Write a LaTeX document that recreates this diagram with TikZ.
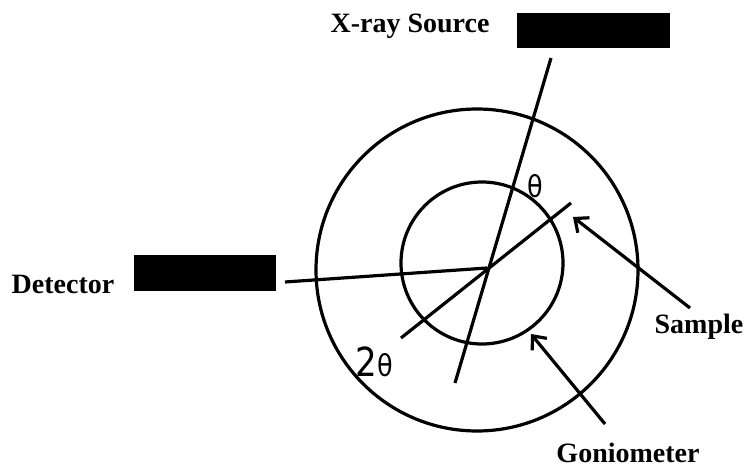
\documentclass[tikz,border=0pt]{standalone}
\usepackage{fontspec}
\setmainfont{Liberation Serif}
\usetikzlibrary{arrows.meta}
\newfontfamily\handfont{DejaVu Sans}
\tikzset{
 ln/.style={line width=3.2pt,black},
 bar/.style={fill=black,draw=none,inner sep=0pt},
 lab/.style={font=\bfseries\fontsize{28}{30}\selectfont,inner sep=0pt},
 arr/.style={ln,-{Straight Barb[length=11pt,width=19pt]}},
 hand/.style={inner sep=0pt,xscale=.85}
}
\begin{document}
\begin{tikzpicture}[x=1pt,y=-1pt]
\useasboundingbox (0,0) rectangle (745,468);
\fill[white] (0,0) rectangle (745,468);
\node[bar,minimum width=153pt,minimum height=35pt] (src) at (593,31) {};
\node[bar,minimum width=142pt,minimum height=36pt] (det) at (205,273) {};
\node[lab] (srcl) at (410,26) {X-ray Source};
\node[lab] (detl) at (63,284) {Detector};
\node[lab] (saml) at (699,327) {Sample};
\node[lab] (gonl) at (628,453) {Goniometer};
\node[ln,draw,circle,minimum size=322pt,inner sep=0pt] (outer) at (477,270) {};
\node[ln,draw,circle,minimum size=162pt,inner sep=0pt] (inner) at (482,263) {};
\coordinate (c) at (487,268);
\coordinate (a1) at (551,58);
\coordinate (a2) at (455,383);
\coordinate (b1) at (571,203);
\coordinate (b2) at (401,338);
\coordinate (d1) at (285,282);
\draw[ln] (a1) -- (a2);
\draw[ln] (b1) -- (b2);
\draw[ln] (c) -- (d1);
\coordinate (s1) at (690,308);
\coordinate (s2) at (573,217);
\coordinate (g1) at (605,424);
\coordinate (g2) at (531,334);
\draw[arr] (s1) -- (s2);
\draw[arr] (g1) -- (g2);
\node[hand,font=\handfont\fontsize{30}{32}\selectfont] (th) at (535,186) {θ};
\node[hand,font=\handfont\fontsize{30}{32}\selectfont] (tt) at (374,362) {{\fontsize{40}{42}\selectfont 2}θ};
\end{tikzpicture}
\end{document}
